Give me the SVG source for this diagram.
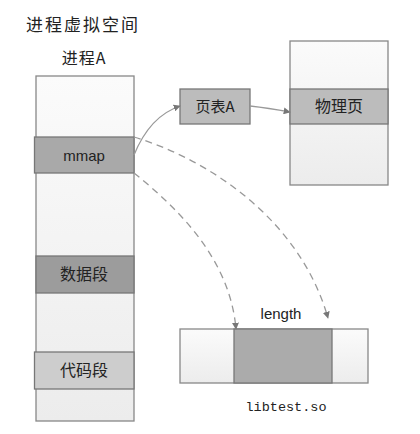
<svg xmlns="http://www.w3.org/2000/svg" width="420" height="434" viewBox="0 0 420 434">
<defs>
<linearGradient id="lg" x1="0" y1="0" x2="0" y2="1">
<stop offset="0" stop-color="#fbfbfb"/>
<stop offset="1" stop-color="#ececec"/>
</linearGradient>
<marker id="ah" viewBox="0 0 10 10" refX="9" refY="5" markerWidth="7" markerHeight="7" orient="auto" markerUnits="userSpaceOnUse">
<path d="M0,0 L10,5 L0,10 z" fill="#777"/>
</marker>
<style>
.col{fill:url(#lg);stroke:#888;stroke-width:1.3}
.seg{stroke:#777;stroke-width:1.3}
.cjk{font-family:"Noto Sans CJK SC","Noto Sans",sans-serif;fill:#222}
.lat{font-family:"Liberation Sans",Arial,sans-serif;fill:#222}
.mono{font-family:"Liberation Mono","Courier New",monospace;fill:#222}
.conn{fill:none;stroke:#999;stroke-width:1.3}
.dash{stroke-dasharray:7,5}
</style>
</defs>
<rect width="420" height="434" fill="#fff"/>
<text class="cjk" x="26" y="31" font-size="17" letter-spacing="2">进程虚拟空间</text>
<g id="processA">
<text class="cjk" x="84" y="64" font-size="16" letter-spacing="1" text-anchor="middle">进程A</text>
<rect class="col" x="36" y="76" width="98" height="345"/>
</g>
<g id="mmap">
<rect class="seg" x="34.5" y="137" width="99.5" height="36" fill="#a9a9a9"/>
<text class="lat" x="84" y="161" font-size="15" text-anchor="middle">mmap</text>
</g>
<g id="data">
<rect class="seg" x="36" y="256" width="98" height="37" fill="#9c9c9c"/>
<text class="cjk" x="84" y="280" font-size="16" text-anchor="middle">数据段</text>
</g>
<g id="code">
<rect class="seg" x="34.5" y="352" width="99.5" height="37" fill="#cdcdcd"/>
<text class="cjk" x="84" y="376" font-size="16" text-anchor="middle">代码段</text>
</g>
<g id="pageTable">
<rect class="seg" x="180" y="89" width="70" height="35" fill="#bcbcbc"/>
<text class="cjk" x="215" y="112" font-size="15" text-anchor="middle">页表A</text>
</g>
<g id="physMem">
<rect class="col" x="290" y="41" width="98" height="144"/>
<rect class="seg" x="290" y="89" width="98" height="35" fill="#bcbcbc"/>
<text class="cjk" x="339" y="112" font-size="16" text-anchor="middle">物理页</text>
</g>
<g id="libtest">
<rect class="col" x="180" y="329" width="188" height="54"/>
<rect class="seg" x="234" y="329" width="98" height="54" fill="#ababab"/>
<text class="lat" x="281" y="319" font-size="15" text-anchor="middle">length</text>
<text class="mono" x="286" y="411" font-size="13.5" text-anchor="middle">libtest.so</text>
</g>
<g id="connectors">
<path class="conn" d="M134,155 Q150,116 180,106" marker-end="url(#ah)"/>
<path class="conn" d="M250,106 Q268,108 290,112" marker-end="url(#ah)"/>
<path class="conn dash" d="M134,137 C210,160 300,220 328,318" marker-end="url(#ah)"/>
<path class="conn dash" d="M134,173 C180,210 230,260 236,329" marker-end="url(#ah)"/>
</g>
</svg>
